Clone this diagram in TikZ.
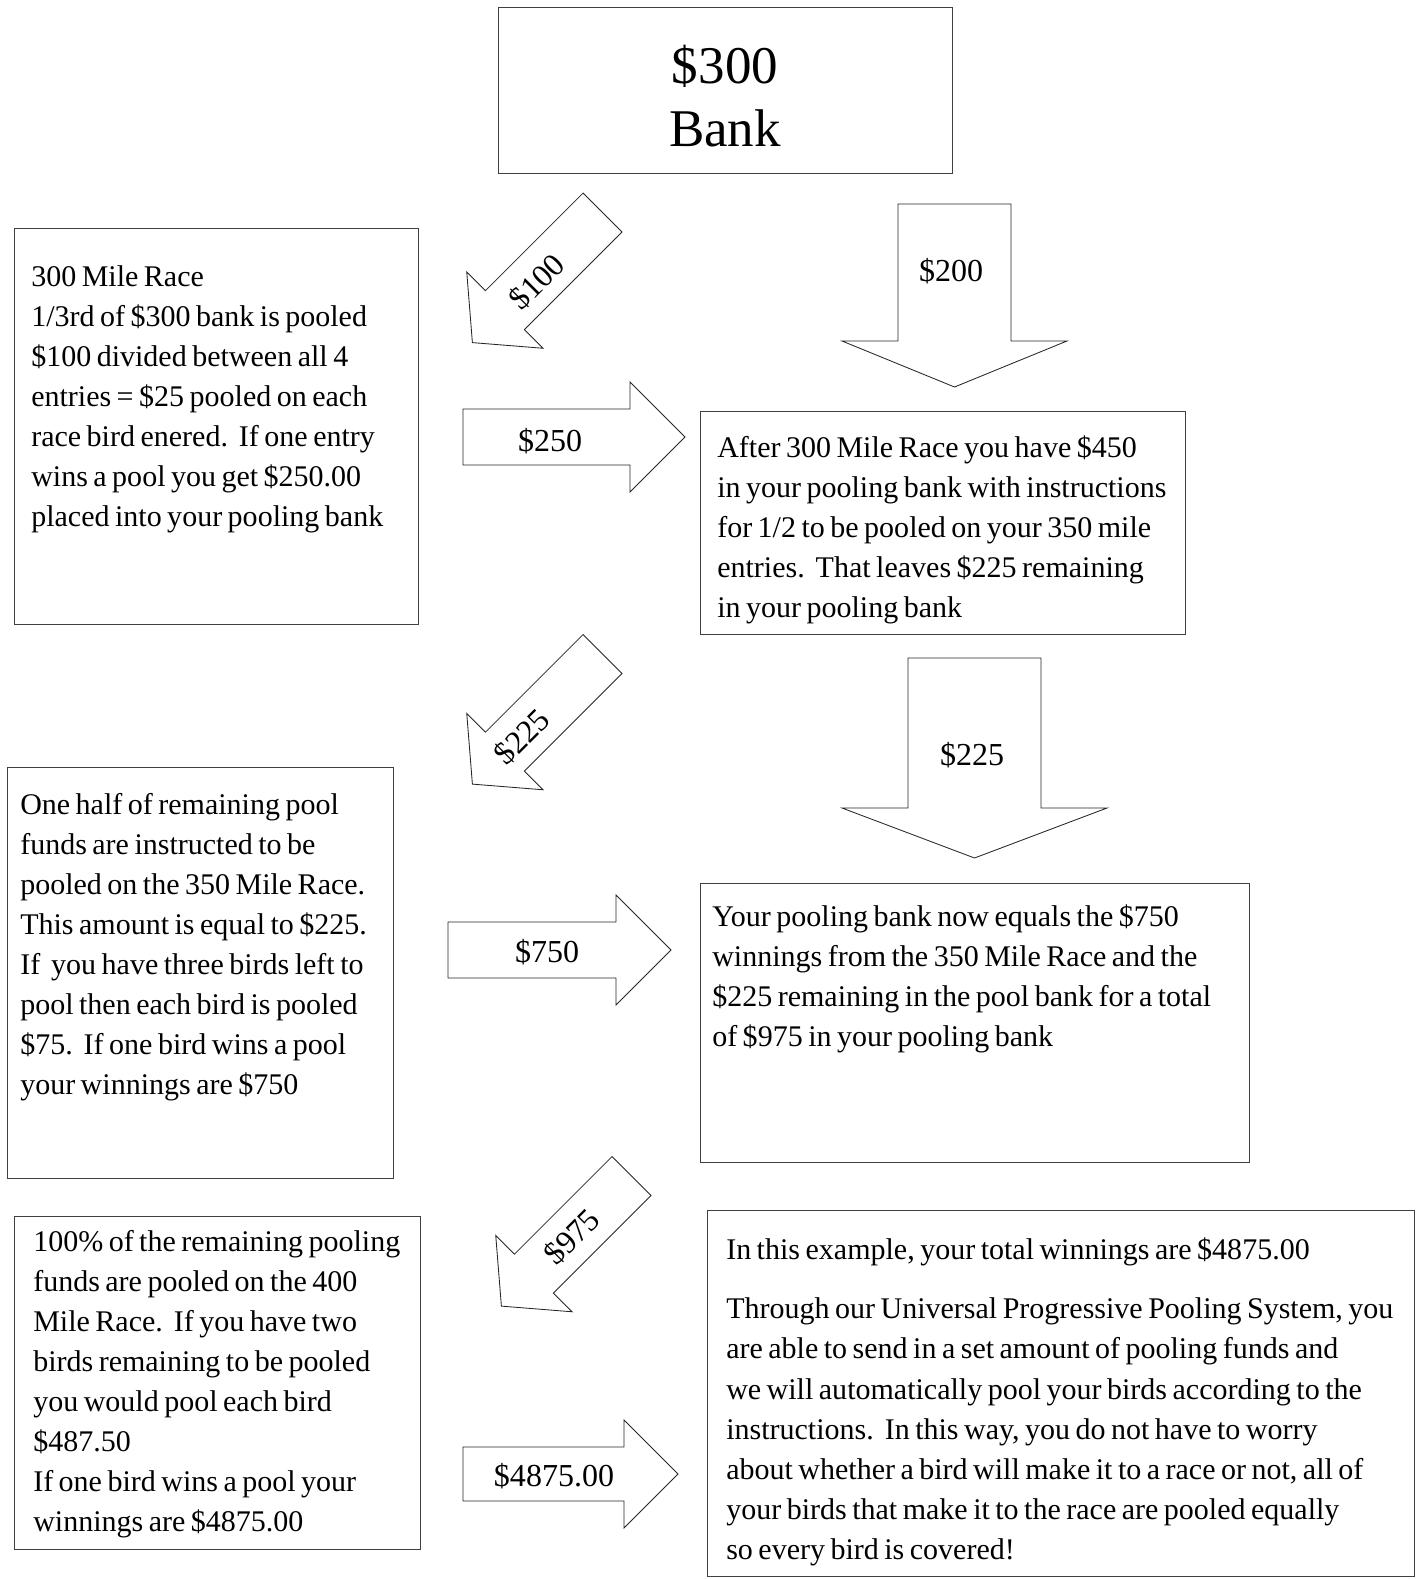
\documentclass[tikz,border=0pt]{standalone}
\usepackage{fontspec}
\setmainfont{Liberation Serif}
\newcommand{\tightsp}{\fontdimen2\font=3.9pt\relax\spaceskip=3.9pt plus 1pt\relax}
\tikzset{
  card/.style={draw=black!75, line width=0.7pt},
  blk/.style={draw=black!85, fill=white, line width=0.6pt, line join=miter},
  bodytxt/.style={font=\fontsize{21.34}{28.45}\selectfont, inner sep=0pt,
                  text width=30cm, align=left, anchor=base west,
                  execute at begin node=\tightsp},
  amt/.style={font=\fontsize{22.76}{27}\selectfont, inner sep=0pt},
  ttl/.style={font=\fontsize{37.7}{45.5}\selectfont, inner sep=0pt,
              text width=8cm, align=center, anchor=base},
}

\begin{document}
\begin{tikzpicture}[x=0.025cm, y=-0.025cm]
\useasboundingbox (0,0) rectangle (1421,1579);

% a block arrow: tail centre, angle, shaft length, shaft half width, head half width, head length
\newcommand{\blockarrow}[7]{\draw[blk, shift={(#1,#2)}, rotate=#3]
  (0,-#5) -- (#4,-#5) -- (#4,-#6) -- ++(#7,#6) -- (#4,#6) -- (#4,#5) -- (0,#5) -- cycle;}

% ---------------- the bank ----------------
\draw[card] (498,7) rectangle (952,173);
\node[ttl] (bank) at (725,83) {\$300\\Bank};

% ---------------- the boxes ----------------
\draw[card] (14,228) rectangle (418,624);
\node[bodytxt] (race300) at (31,286) {300 Mile Race\\
1/3rd of \$300 bank is pooled\\
\$100 divided between all 4\\
entries = \$25 pooled on each\\
race bird enered.\ \ If one entry\\
wins a pool you get \$250.00\\
placed into your pooling bank};

\draw[card] (700,411) rectangle (1185,634);
\node[bodytxt] (after300) at (717,457) {After 300 Mile Race you have \$450\\
in your pooling bank with instructions\\
for 1/2 to be pooled on your 350 mile\\
entries.\ \ That leaves \$225 remaining\\
in your pooling bank};

\draw[card] (7,767) rectangle (393,1178);
\node[bodytxt] (race350) at (20,814) {One half of remaining pool\\
funds are instructed to be\\
pooled on the 350 Mile Race.\\
This amount is equal to \$225.\\
If\ \ you have three birds left to\\
pool then each bird is pooled\\
\$75.\ \ If one bird wins a pool\\
your winnings are \$750};

\draw[card] (700,883) rectangle (1249,1162);
\node[bodytxt] (after350) at (712,926) {Your pooling bank now equals the \$750\\
winnings from the 350 Mile Race and the\\
\$225 remaining in the pool bank for a total\\
of \$975 in your pooling bank};

\draw[card] (14,1216) rectangle (420,1549);
\node[bodytxt] (race400) at (33,1251) {100\% of the remaining pooling\\
funds are pooled on the 400\\
Mile Race.\ \ If you have two\\
birds remaining to be pooled\\
you would pool each bird\\
\$487.50\\
If one bird wins a pool your\\
winnings are \$4875.00};

\draw[card] (707,1210) rectangle (1414,1576);
\node[bodytxt] (summary) at (726,1259) {In this example, your total winnings are \$4875.00\\[14.2pt]
Through our Universal Progressive Pooling System, you\\
are able to send in a set amount of pooling funds and\\
we will automatically pool your birds according to the\\
instructions.\ \ In this way, you do not have to worry\\
about whether a bird will make it to a race or not, all of\\
your birds that make it to the race are pooled equally\\
so every bird is covered!};

% ---------------- the arrows ----------------
\blockarrow{602.5}{212.5}{225}{138}{27.5}{54}{46}
\blockarrow{602.5}{654}{225}{138}{27.5}{54}{46}
\blockarrow{631.5}{1176}{225}{138}{27.5}{54}{46}
\blockarrow{463}{437}{0}{167}{28}{55}{55}
\blockarrow{448}{950}{0}{168}{28}{55}{55}
\blockarrow{463}{1474}{0}{161}{27}{54}{54}
\blockarrow{954.5}{204}{-90}{137}{56.5}{112.5}{46}
\blockarrow{974.5}{658}{-90}{150}{66.5}{132.5}{50}

\node[amt, rotate=45] (give100) at (537,282) {\$100};
\node[amt, rotate=45] (give225) at (522,737) {\$225};
\node[amt, rotate=45] (give975) at (572,1237) {\$975};
\node[amt] (win250) at (550,441) {\$250};
\node[amt] (win750) at (547,952) {\$750};
\node[amt] (win4875) at (554,1476) {\$4875.00};
\node[amt] (keep200) at (951,271) {\$200};
\node[amt] (keep225) at (972,755) {\$225};
\end{tikzpicture}
\end{document}
